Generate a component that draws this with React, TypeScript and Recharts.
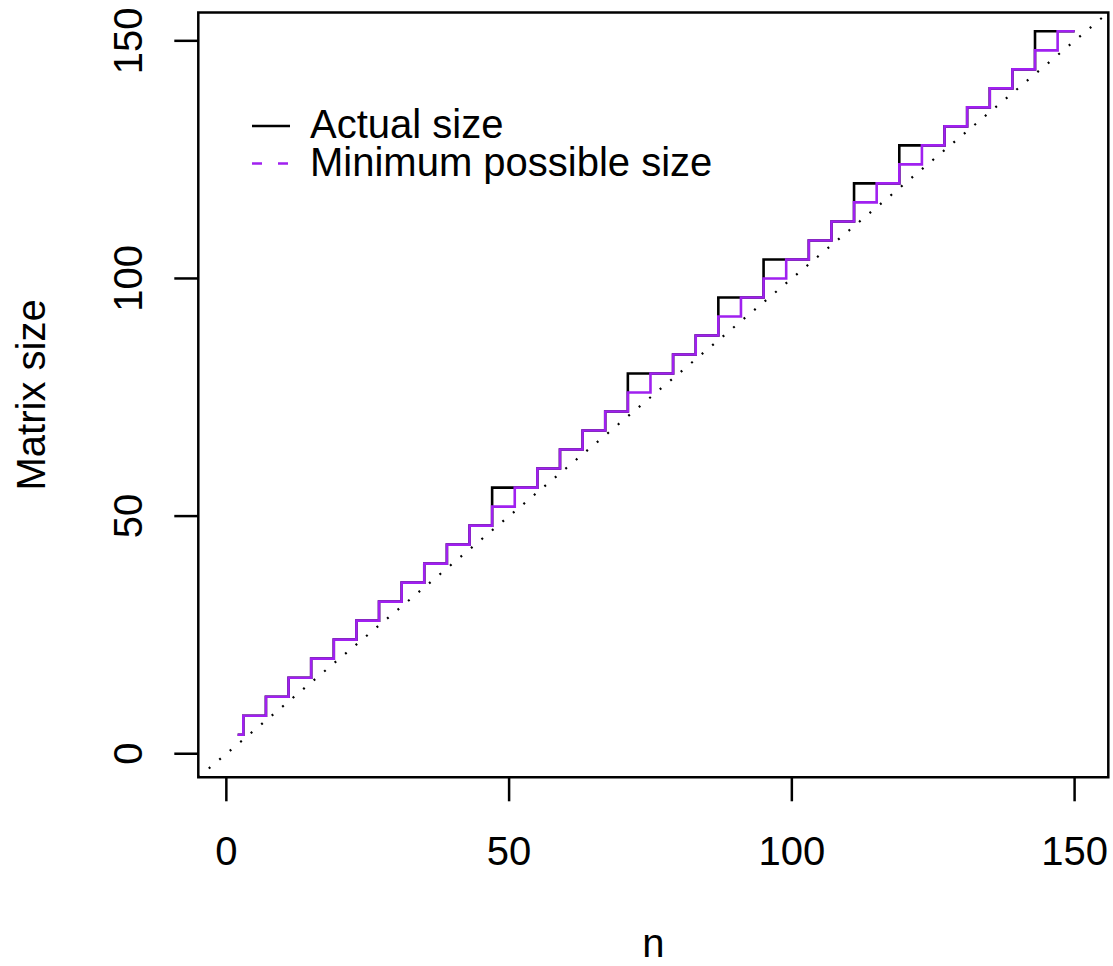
import React from 'react';
import { LineChart, Line, XAxis, YAxis, ReferenceLine, ReferenceArea, Legend } from 'recharts';

// n values at which the matrix size changes (step points), plus the last n
const nValues = [2, 3, 7, 11, 15, 19, 23, 27, 31, 35, 39, 43, 47, 51, 55, 59, 63, 67, 71, 75, 79, 83, 87, 91, 95, 99, 103, 107, 111, 115, 119, 123, 127, 131, 135, 139, 143, 147, 150];
const actualSize = [4, 8, 12, 16, 20, 24, 28, 32, 36, 40, 44, 48, 56, 56, 60, 64, 68, 72, 80, 80, 84, 88, 96, 96, 104, 104, 108, 112, 120, 120, 128, 128, 132, 136, 140, 144, 152, 152, 152];
const minimumSize = [4, 8, 12, 16, 20, 24, 28, 32, 36, 40, 44, 48, 52, 56, 60, 64, 68, 72, 76, 80, 84, 88, 92, 96, 100, 104, 108, 112, 116, 120, 124, 128, 132, 136, 140, 144, 148, 152, 152];

const xTicks = [0, 50, 100, 150];
const yTicks = [0, 50, 100, 150];
const axisMin = -4.96;
const axisMax = 155.96;

const legendItems = [
  { label: 'Actual size', color: '#000000', dash: undefined as string | undefined },
  { label: 'Minimum possible size', color: '#A020F0', dash: '10 16' },
];

const FONT = '"Liberation Sans", Arial, Helvetica, sans-serif';

const data = nValues.map((n, i) => ({ n, actual: actualSize[i], minimum: minimumSize[i] }));

const XTick = (props: any) => {
  const { x, y, payload } = props;
  return (
    <text x={x} y={y + 63.7} textAnchor="middle" fontSize={40} fontFamily={FONT} fill="#000">
      {payload.value}
    </text>
  );
};

const YTick = (props: any) => {
  const { x, y, payload } = props;
  const bx = x - 32.6;
  return (
    <text x={bx} y={y} transform={`rotate(-90, ${bx}, ${y})`} textAnchor="middle" fontSize={40} fontFamily={FONT} fill="#000">
      {payload.value}
    </text>
  );
};

const XLabel = (props: any) => {
  const vb = props.viewBox || {};
  const cx = vb.x + vb.width / 2;
  return (
    <text x={cx} y={vb.y + 179.7} textAnchor="middle" fontSize={40} fontFamily={FONT} fill="#000">
      n
    </text>
  );
};

const YLabel = (props: any) => {
  const vb = props.viewBox || {};
  const cy = vb.y + vb.height / 2;
  const bx = vb.x + vb.width - 153.3;
  return (
    <text x={bx} y={cy} transform={`rotate(-90, ${bx}, ${cy})`} textAnchor="middle" fontSize={40} fontFamily={FONT} fill="#000">
      Matrix size
    </text>
  );
};

const LegendContent = () => (
  <svg width={520} height={100} style={{ display: 'block', overflow: 'visible' }}>
    {legendItems.map((it, i) => (
      <g key={it.label}>
        <line
          x1={12}
          x2={50}
          y1={26 + i * 37.5}
          y2={26 + i * 37.5}
          stroke={it.color}
          strokeWidth={2.5}
          strokeDasharray={it.dash}
        />
        <text x={70} y={38 + i * 37.5} fontSize={40} fontFamily={FONT} fill="#000">
          {it.label}
        </text>
      </g>
    ))}
  </svg>
);

export default function App() {
  return (
    <div style={{ position: 'absolute', left: 0, top: 0, width: 1113, height: 966, background: '#fff' }}>
      <LineChart
        width={1113}
        height={966}
        data={data}
        margin={{ top: 12.5, right: 4.7, left: 118.3, bottom: 108.7 }}
      >
        <XAxis
          dataKey="n"
          type="number"
          domain={[axisMin, axisMax]}
          ticks={xTicks}
          allowDataOverflow
          height={80}
          axisLine={false}
          tickSize={24}
          tickMargin={0}
          tickLine={{ stroke: '#000', strokeWidth: 2.5 }}
          tick={<XTick />}
          interval={0}
          label={{ content: XLabel }}
        />
        <YAxis
          type="number"
          domain={[axisMin, axisMax]}
          ticks={yTicks}
          allowDataOverflow
          width={80}
          axisLine={false}
          tickSize={24}
          tickMargin={0}
          tickLine={{ stroke: '#000', strokeWidth: 2.5 }}
          tick={<YTick />}
          interval={0}
          label={{ content: YLabel }}
        />
        <ReferenceArea
          x1={axisMin}
          x2={axisMax}
          y1={axisMin}
          y2={axisMax}
          fill="none"
          fillOpacity={0}
          stroke="#000"
          strokeWidth={2.5}
          ifOverflow="visible"
        />
        <ReferenceLine
          segment={[{ x: axisMin, y: axisMin }, { x: axisMax, y: axisMax }]}
          stroke="#000"
          strokeWidth={2.2}
          strokeDasharray="2 11.7"
          ifOverflow="visible"
        />
        <Line
          type="stepAfter"
          dataKey="actual"
          stroke="#000000"
          strokeWidth={2.6}
          dot={false}
          activeDot={false}
          isAnimationActive={false}
        />
        <Line
          type="stepAfter"
          dataKey="minimum"
          stroke="#A020F0"
          strokeWidth={2.6}
          dot={false}
          activeDot={false}
          isAnimationActive={false}
        />
        <Legend
          layout="horizontal"
          verticalAlign="middle"
          align="center"
          content={<LegendContent />}
          wrapperStyle={{ position: 'absolute', left: 240, top: 100, width: 520, height: 100 }}
        />
      </LineChart>
    </div>
  );
}
